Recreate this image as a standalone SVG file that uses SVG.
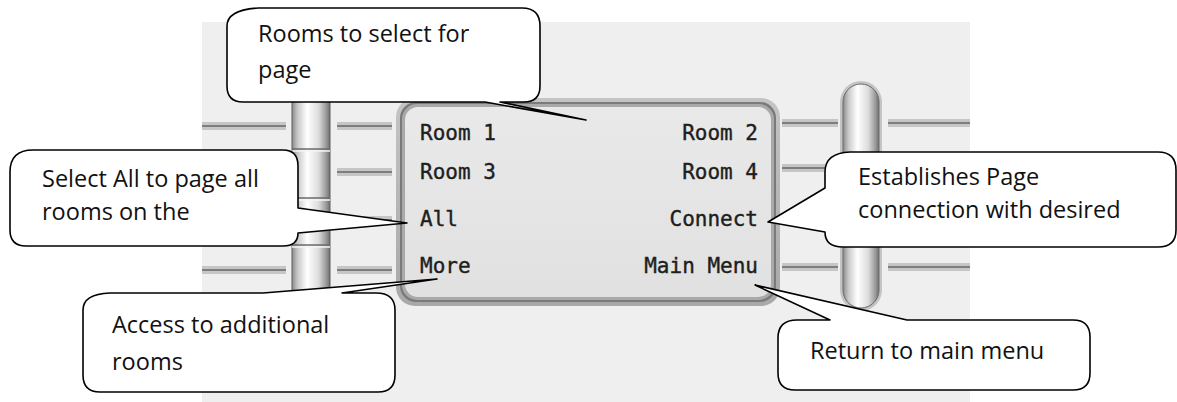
<svg xmlns="http://www.w3.org/2000/svg" width="1177" height="402" viewBox="0 0 1177 402">
<style>
.line-band{fill:#c6c6c6}
.line-core{stroke:#7e7e7e;stroke-width:2}
.seg{stroke:#6a6a6a;stroke-width:1.5}
.seg-hi{stroke:#f4f4f4;stroke-width:1.5}
.lcd{font-family:"DejaVu Sans Mono","Liberation Mono",monospace;font-size:21px;fill:#1e1e1e;stroke:#1e1e1e;stroke-width:0.4}
.callout{fill:#ffffff;stroke:#000000;stroke-width:1.6;stroke-linejoin:round}
.ctext{font-family:"Open Sans","Noto Sans","Liberation Sans",sans-serif;font-size:23.5px;fill:#111111}
</style>
<defs>
<linearGradient id="tube" x1="0" y1="0" x2="1" y2="0">
<stop offset="0" stop-color="#8a8a8a"/>
<stop offset="0.15" stop-color="#c9c9c9"/>
<stop offset="0.4" stop-color="#ffffff"/>
<stop offset="0.7" stop-color="#dcdcdc"/>
<stop offset="0.9" stop-color="#9a9a9a"/>
<stop offset="1" stop-color="#6e6e6e"/>
</linearGradient>
<linearGradient id="bezel" x1="0" y1="0" x2="0" y2="1">
<stop offset="0" stop-color="#c4c4c4"/>
<stop offset="1" stop-color="#a8a8a8"/>
</linearGradient>
<linearGradient id="lcdfill" x1="0" y1="0" x2="0" y2="1">
<stop offset="0" stop-color="#e9e9e9"/>
<stop offset="1" stop-color="#e1e1e1"/>
</linearGradient>
</defs>

<g id="backdrop">
<rect x="202" y="22" width="768" height="380" fill="#efefef"/>
</g>

<g id="side-lines">
<rect class="line-band" x="202" y="122" width="84" height="8"/>
<line class="line-core" x1="202" y1="126" x2="286" y2="126"/>
<rect class="line-band" x="202" y="168" width="84" height="8"/>
<line class="line-core" x1="202" y1="172" x2="286" y2="172"/>
<rect class="line-band" x="202" y="216" width="84" height="8"/>
<line class="line-core" x1="202" y1="220" x2="286" y2="220"/>
<rect class="line-band" x="202" y="266" width="84" height="8"/>
<line class="line-core" x1="202" y1="270" x2="286" y2="270"/>

<rect class="line-band" x="337" y="122" width="55" height="8"/>
<line class="line-core" x1="337" y1="126" x2="392" y2="126"/>
<rect class="line-band" x="337" y="168" width="55" height="8"/>
<line class="line-core" x1="337" y1="172" x2="392" y2="172"/>
<rect class="line-band" x="337" y="216" width="55" height="8"/>
<line class="line-core" x1="337" y1="220" x2="392" y2="220"/>
<rect class="line-band" x="337" y="266" width="55" height="8"/>
<line class="line-core" x1="337" y1="270" x2="392" y2="270"/>

<rect class="line-band" x="782" y="119" width="56" height="8"/>
<line class="line-core" x1="782" y1="123" x2="838" y2="123"/>
<rect class="line-band" x="782" y="164" width="56" height="8"/>
<line class="line-core" x1="782" y1="168" x2="838" y2="168"/>
<rect class="line-band" x="782" y="214" width="56" height="8"/>
<line class="line-core" x1="782" y1="218" x2="838" y2="218"/>
<rect class="line-band" x="782" y="263" width="56" height="8"/>
<line class="line-core" x1="782" y1="267" x2="838" y2="267"/>

<rect class="line-band" x="888" y="119" width="82" height="8"/>
<line class="line-core" x1="888" y1="123" x2="970" y2="123"/>
<rect class="line-band" x="888" y="164" width="82" height="8"/>
<line class="line-core" x1="888" y1="168" x2="970" y2="168"/>
<rect class="line-band" x="888" y="214" width="82" height="8"/>
<line class="line-core" x1="888" y1="218" x2="970" y2="218"/>
<rect class="line-band" x="888" y="263" width="82" height="8"/>
<line class="line-core" x1="888" y1="267" x2="970" y2="267"/>
</g>

<g id="left-tube">
<rect x="292" y="90" width="38" height="215" fill="url(#tube)" stroke="#5e5e5e" stroke-width="1"/>
<line class="seg" x1="292" y1="149" x2="330" y2="149"/>
<line class="seg-hi" x1="292" y1="151" x2="330" y2="151"/>
<line class="seg" x1="292" y1="198" x2="330" y2="198"/>
<line class="seg-hi" x1="292" y1="200" x2="330" y2="200"/>
<line class="seg" x1="292" y1="245" x2="330" y2="245"/>
<line class="seg-hi" x1="292" y1="247" x2="330" y2="247"/>
</g>

<g id="right-tube">
<rect x="840" y="81" width="42" height="230" rx="21" ry="21" fill="#c4c4c4"/>
<rect x="843" y="84" width="36" height="224" rx="18" ry="18" fill="url(#tube)" stroke="#6a6a6a" stroke-width="1"/>
</g>

<g id="screen">
<rect x="396" y="98" width="384" height="208" rx="19" ry="19" fill="url(#bezel)"/>
<rect x="400" y="102" width="376" height="200" rx="16" ry="16" fill="#7a7a7a"/>
<rect x="402" y="104" width="372" height="196" rx="15" ry="15" fill="#a9a9a9"/>
<rect x="405" y="107" width="366" height="190" rx="13" ry="13" fill="url(#lcdfill)"/>
</g>

<g id="lcd-room1"><text class="lcd" x="420" y="140">Room 1</text></g>
<g id="lcd-room2"><text class="lcd" x="758" y="140" text-anchor="end">Room 2</text></g>
<g id="lcd-room3"><text class="lcd" x="420" y="179">Room 3</text></g>
<g id="lcd-room4"><text class="lcd" x="758" y="179" text-anchor="end">Room 4</text></g>
<g id="lcd-all"><text class="lcd" x="420" y="226">All</text></g>
<g id="lcd-connect"><text class="lcd" x="758" y="226" text-anchor="end">Connect</text></g>
<g id="lcd-more"><text class="lcd" x="420" y="273">More</text></g>
<g id="lcd-mainmenu"><text class="lcd" x="758" y="273" text-anchor="end">Main Menu</text></g>

<g id="connectors"></g>

<g id="callout-rooms">
<path class="callout" d="M258,8 L522,8 Q540,8 540,26 L540,86 Q540,102 524,102 L500,102 L586,120 L485,102 L243,102 Q227,102 227,86 L227,26 Q227,10 258,8 Z"/>
<text class="ctext" x="258" y="42">Rooms to select for</text>
<text class="ctext" x="258" y="78">page</text>
</g>

<g id="callout-all">
<path class="callout" d="M33,150 L283,150 Q298,150 298,166 L298,208 L407,223 L298,233 Q298,246 283,246 L26,246 Q10,246 10,230 L10,172 Q10,150 33,150 Z"/>
<text class="ctext" x="42" y="187">Select All to page all</text>
<text class="ctext" x="42" y="220">rooms on the</text>
</g>

<g id="callout-more">
<path class="callout" d="M110,293 L263,293 L437,279 L342,293 L376,293 Q395,293 395,310 L395,375 Q395,392 378,392 L100,392 Q83,392 83,375 L83,310 Q83,294 110,293 Z"/>
<text class="ctext" x="112" y="333">Access to additional</text>
<text class="ctext" x="112" y="370">rooms</text>
</g>

<g id="callout-connect">
<path class="callout" d="M850,152 L1158,152 Q1176,152 1176,170 L1176,230 Q1176,247 1158,247 L843,247 Q825,247 825,232 L768,222 L825,188 L825,172 Q825,153 850,152 Z"/>
<text class="ctext" x="858" y="185">Establishes Page</text>
<text class="ctext" x="858" y="218">connection with desired</text>
</g>

<g id="callout-mainmenu">
<path class="callout" d="M797,320 L830,320 L755,285 L907,320 L1073,320 Q1090,320 1090,337 L1090,373 Q1090,390 1073,390 L795,390 Q778,390 778,373 L778,338 Q778,320 797,320 Z"/>
<text class="ctext" x="810" y="359">Return to main menu</text>
</g>
</svg>
